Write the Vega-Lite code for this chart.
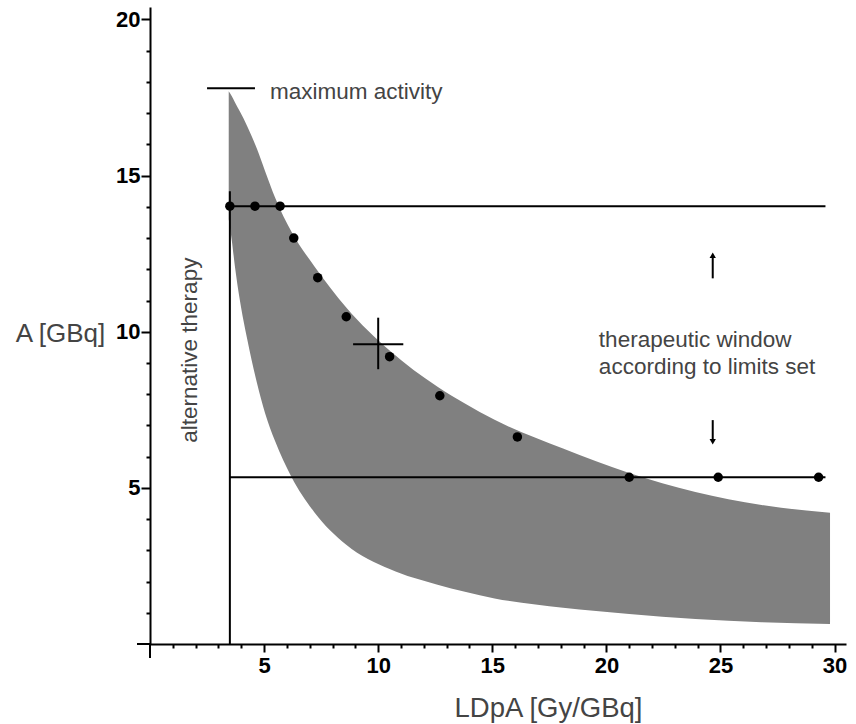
{
  "$schema": "https://vega.github.io/schema/vega-lite/v6.json",
  "autosize": {"type": "none"},
  "width": 696,
  "height": 637,
  "padding": {"left": 150, "top": 7, "right": 10, "bottom": 80},
  "background": "white",
  "config": {
    "view": {"stroke": null},
    "font": "Liberation Sans",
    "axis": {"grid": false, "labelOverlap": false, "labelBound": false, "labelFlush": false}
  },
  "datasets": {
    "band": [
      {"x": 3.45, "y": 17.7, "y2": 13.6},
      {"x": 3.58, "y": 17.55, "y2": 12.95},
      {"x": 3.72, "y": 17.35, "y2": 12.1},
      {"x": 3.94, "y": 17.05, "y2": 11.0},
      {"x": 4.25, "y": 16.6, "y2": 9.8},
      {"x": 4.69, "y": 15.85, "y2": 8.35},
      {"x": 5.04, "y": 15.15, "y2": 7.4},
      {"x": 5.48, "y": 14.3, "y2": 6.5},
      {"x": 6.2, "y": 13.2, "y2": 5.35},
      {"x": 7.2, "y": 12.1, "y2": 4.22},
      {"x": 8.6, "y": 10.78, "y2": 3.18},
      {"x": 10.5, "y": 9.4, "y2": 2.4},
      {"x": 12.6, "y": 8.24, "y2": 1.9},
      {"x": 13.8, "y": 7.7, "y2": 1.67},
      {"x": 15.1, "y": 7.18, "y2": 1.46},
      {"x": 18.1, "y": 6.26, "y2": 1.16},
      {"x": 21.0, "y": 5.48, "y2": 0.96},
      {"x": 23.9, "y": 4.87, "y2": 0.8},
      {"x": 26.8, "y": 4.45, "y2": 0.7},
      {"x": 29.8, "y": 4.2, "y2": 0.64}
    ],
    "lines": [
      {"x": 3.5, "x2": 3.5, "y": 0, "y2": 14.5},
      {"x": 3.5, "x2": 29.6, "y": 14.02, "y2": 14.02},
      {"x": 3.5, "x2": 29.6, "y": 5.34, "y2": 5.34},
      {"x": 2.5, "x2": 4.6, "y": 17.8, "y2": 17.8},
      {"x": 8.9, "x2": 11.1, "y": 9.6, "y2": 9.6},
      {"x": 10.0, "x2": 10.0, "y": 8.8, "y2": 10.45},
      {"x": 24.66, "x2": 24.66, "y": 11.71, "y2": 12.4},
      {"x": 24.66, "x2": 24.66, "y": 6.55, "y2": 7.17},
      {"x": -0.57, "x2": 0, "y": 0, "y2": 0},
      {"x": 0, "x2": 0, "y": -0.45, "y2": 0}
    ],
    "dots": [
      {"x": 3.5, "y": 14.02},
      {"x": 4.6, "y": 14.02},
      {"x": 5.7, "y": 14.02},
      {"x": 6.3, "y": 13.0},
      {"x": 7.35, "y": 11.73},
      {"x": 8.6, "y": 10.48},
      {"x": 10.5, "y": 9.2},
      {"x": 12.7, "y": 7.95},
      {"x": 16.1, "y": 6.63},
      {"x": 21.0, "y": 5.34},
      {"x": 24.9, "y": 5.34},
      {"x": 29.3, "y": 5.34}
    ],
    "heads": [
      {"x": 24.66, "y": 12.45, "dir": "up"},
      {"x": 24.66, "y": 6.48, "dir": "down"}
    ],
    "labels": [
      {"x": 5.26, "y": 17.44, "text": "maximum activity"},
      {"x": 19.67, "y": 9.5, "text": "therapeutic window"},
      {"x": 19.67, "y": 8.64, "text": "according to limits set"}
    ],
    "vlabels": [
      {"x": 2.06, "y": 9.41, "text": "alternative therapy"}
    ]
  },
  "encoding": {
    "x": {
      "field": "x", "type": "quantitative",
      "scale": {"domain": [0, 30.5], "nice": false, "zero": false},
      "axis": {
        "title": "LDpA [Gy/GBq]",
        "values": [1,2,3,4,5,6,7,8,9,10,11,12,13,14,15,16,17,18,19,20,21,22,23,24,25,26,27,28,29,30],
        "labelExpr": "datum.value % 5 === 0 ? datum.label : ''",
        "tickSize": {"condition": {"test": "datum.value % 5 === 0", "value": 8}, "value": 4},
        "tickColor": "black", "tickWidth": 2,
        "domainColor": "black", "domainWidth": 2,
        "labelFont": "Liberation Sans", "labelFontWeight": "bold", "labelFontSize": 22,
        "labelColor": "black", "labelPadding": 3, "labelFlush": false, "labelOverlap": false,
        "titleFont": "Liberation Sans", "titleFontSize": 27.5, "titleFontWeight": "normal",
        "titleColor": "#444444", "titleX": 398, "titleY": 72,
        "titleAlign": "center", "titleBaseline": "alphabetic"
      }
    },
    "y": {
      "field": "y", "type": "quantitative",
      "scale": {"domain": [0, 20.4], "nice": false, "zero": false},
      "axis": {
        "title": "A [GBq]",
        "values": [1,2,3,4,5,6,7,8,9,10,11,12,13,14,15,16,17,18,19,20],
        "labelExpr": "datum.value % 5 === 0 ? datum.label : ''",
        "tickSize": {"condition": {"test": "datum.value % 5 === 0", "value": 9}, "value": 4},
        "tickColor": "black", "tickWidth": 2,
        "domainColor": "black", "domainWidth": 2,
        "labelFont": "Liberation Sans", "labelFontWeight": "bold", "labelFontSize": 22,
        "labelColor": "black", "labelPadding": 1, "labelFlush": false, "labelOverlap": false,
        "titleFont": "Liberation Sans", "titleFontSize": 26, "titleFontWeight": "normal",
        "titleColor": "#444444", "titleAngle": 0, "titleX": -90, "titleY": 326,
        "titleAlign": "center", "titleBaseline": "middle"
      }
    }
  },
  "layer": [
    {
      "data": {"name": "band"},
      "mark": {"type": "area", "color": "#808080", "interpolate": "monotone"},
      "encoding": {
        "y2": {"field": "y2"}
      }
    },
    {
      "data": {"name": "lines"},
      "mark": {"type": "rule", "color": "black", "strokeWidth": 2},
      "encoding": {
        "x2": {"field": "x2"},
        "y2": {"field": "y2"}
      }
    },
    {
      "data": {"name": "dots"},
      "mark": {"type": "point", "filled": true, "color": "black", "size": 90, "opacity": 1},
      "encoding": {}
    },
    {
      "data": {"name": "heads"},
      "mark": {"type": "point", "filled": true, "color": "black", "size": 40, "opacity": 1},
      "encoding": {
        "shape": {"field": "dir", "type": "nominal", "scale": {"domain": ["up", "down"], "range": ["triangle-up", "triangle-down"]}, "legend": null}
      }
    },
    {
      "data": {"name": "labels"},
      "mark": {"type": "text", "align": "left", "baseline": "alphabetic", "font": "Liberation Sans", "fontSize": 22.5, "color": "#444444"},
      "encoding": {
        "text": {"field": "text"}
      }
    },
    {
      "data": {"name": "vlabels"},
      "mark": {"type": "text", "align": "center", "baseline": "alphabetic", "angle": 270, "font": "Liberation Sans", "fontSize": 22.5, "color": "#444444"},
      "encoding": {
        "text": {"field": "text"}
      }
    }
  ]
}
